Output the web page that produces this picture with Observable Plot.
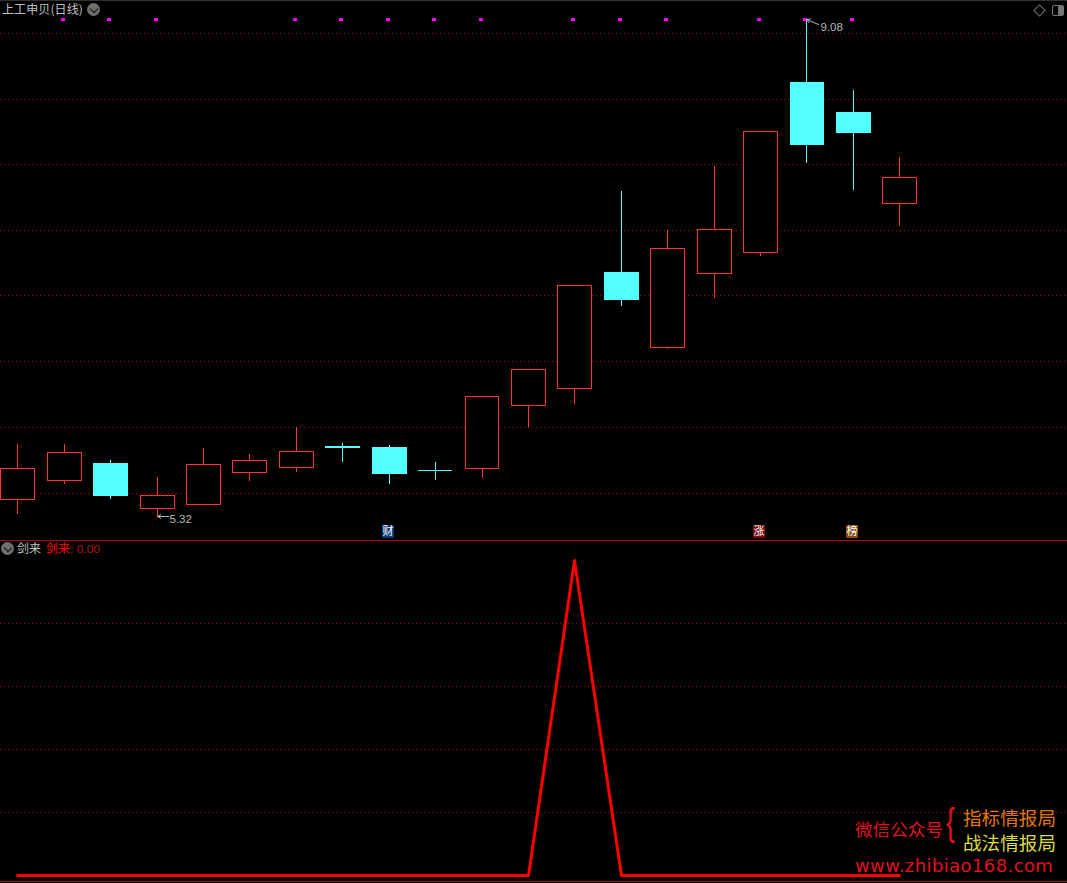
<!DOCTYPE html>
<html lang="zh">
<head>
<meta charset="utf-8">
<script src="https://cdn.jsdelivr.net/npm/d3@7"></script>
<script src="https://cdn.jsdelivr.net/npm/@observablehq/plot@0.6"></script>
<style>
html,body{margin:0;padding:0;background:#000;width:1067px;height:883px;overflow:hidden}
#page{position:relative;width:1067px;height:883px;background:#000;font-family:"Noto Sans CJK SC","Noto Sans",sans-serif}
#page svg{display:block;background:#000;position:relative}
.t{position:absolute;white-space:nowrap;line-height:1;z-index:2}
.btn{position:absolute;width:13px;height:13px;border-radius:50%;background:#6e6e6e;z-index:2}
.btn:after{content:"";position:absolute;left:3.5px;top:2.5px;width:5px;height:5px;border-right:1.3px solid #111;border-bottom:1.3px solid #111;transform:rotate(45deg)}
</style>
</head>
<body>
<div id="page">
  <div style="position:absolute;left:0;top:0;width:1067px;height:1px;background:#333;z-index:3"></div>
  <div class="t" style="left:2px;top:3px;font-size:12px;letter-spacing:.1px;color:#c0c0c0">上工申贝(日线)</div>
  <div class="btn" style="left:87px;top:3px"></div>
  <div style="position:absolute;left:1035px;top:6px;width:7px;height:7px;border:1px solid #777;transform:rotate(45deg);z-index:2"></div>
  <div style="position:absolute;left:1052px;top:5px;width:10px;height:9px;border:1px solid #777;border-radius:2px;z-index:2"><div style="position:absolute;right:0;top:0;width:5px;height:9px;background:#777"></div></div>
  <div class="btn" style="left:1px;top:542px"></div>
  <div class="t" style="left:17px;top:542px;font-size:12px;color:#c0c0c0">剑来</div>
  <div class="t" style="left:46px;top:542px;font-size:12px;color:#ff0000">剑来<span style="font-family:'Liberation Sans';font-size:11.5px;letter-spacing:.2px;color:#b81414">: 0.00</span></div>
  <div class="t" style="left:855px;top:820px;font-size:17.6px;color:#e01020">微信公众号</div>
  <div class="t" style="left:946px;top:803px;font-size:38px;font-weight:300;color:#e01020;transform:scaleX(.7);transform-origin:left top;font-family:'Liberation Sans'">{</div>
  <div class="t" style="left:963px;top:808px;font-size:18.6px;color:#e07808">指标情报局</div>
  <div class="t" style="left:963px;top:833px;font-size:18.6px;color:#dcdc3c">战法情报局</div>
  <div class="t" style="left:855px;top:857px;font-size:18px;letter-spacing:.4px;color:#e01020;font-family:'DejaVu Sans'">www.zhibiao168.com</div>
  <div id="top"></div>
  <div id="bottom"></div>
</div>
<script>
// 日线 K 线数据(读自图中)
const days  = d3.range(20);
const open  = [5.449,5.593,5.721,5.381,5.411,5.653,5.691,5.85,5.842,5.668,5.684,6.16,6.289,7.166,6.599,7.159,7.318,8.603,8.377,7.688];
const close = [5.684,5.805,5.48,5.479,5.714,5.744,5.812,5.842,5.645,5.668,6.228,6.432,7.068,6.962,7.348,7.491,8.233,8.135,8.226,7.885];
const high  = [5.865,5.865,5.744,5.616,5.835,5.79,5.994,5.873,5.858,5.729,6.228,6.432,7.068,7.779,7.484,7.968,8.233,9.08,8.543,8.036];
const low   = [5.336,5.563,5.449,5.32,5.411,5.585,5.653,5.729,5.563,5.593,5.608,5.994,6.168,6.909,6.584,6.97,7.287,7.991,7.787,7.514];
const priceGrid = [8.974,8.475,7.983,7.484,6.992,6.493,5.994,5.495];
const signalDays = [1,2,3,6,7,8,9,10,12,13,14,16,17,18];
const signalPrice = 9.08;
const badgeDays = [8,16,18];
const badgeText = ["财","涨","榜"];
const badgeFill = ["#0a3c78","#7d0808","#8a4a08"];
const badgePrice = 5.203;
// 副图 剑来
const jianlai = [0,0,0,0,0,0,0,0,0,0,0,0,1,0,0,0,0,0,0,0];
const subGrid = [0.8,0.6,0.4,0.2];
const subEdges = [1.065,-0.0175];

const RED="#ff3232", CYAN="#54ffff", GRID="#b00000", LABEL="#b8b8b8";
const isUp = i => close[i] > open[i];
const isFlat = i => close[i] === open[i];
const xScale = {domain:[0,19], range:[17.3,899.3], round:true};
const halfBody = 0.365;

const topPlot = Plot.plot({
  width:1067, height:539, margin:0,
  style:{background:"#000"},
  x:{...xScale, axis:null},
  y:{domain:[5.32,9.08], range:[516,19], round:true, axis:null},
  marks:[
    Plot.ruleY(priceGrid,{stroke:GRID,strokeWidth:1,strokeDasharray:"1 3",shapeRendering:"crispEdges"}),
    Plot.ruleX(days,{x:d=>d,y1:i=>low[i],y2:i=>high[i],stroke:i=>isUp(i)?RED:CYAN,strokeWidth:1,shapeRendering:"crispEdges"}),
    Plot.rect(days.filter(i=>!isFlat(i)),{x1:i=>i-halfBody,x2:i=>i+halfBody,y1:i=>open[i],y2:i=>close[i],
      fill:i=>isUp(i)?"#000":CYAN,stroke:i=>isUp(i)?RED:CYAN,strokeWidth:1,shapeRendering:"crispEdges"}),
    Plot.ruleY(days.filter(isFlat),{x1:i=>i-halfBody,x2:i=>i+halfBody,y:i=>open[i],stroke:CYAN,strokeWidth:1,shapeRendering:"crispEdges"}),
    Plot.dot(signalDays,{x:d=>d,y:()=>signalPrice,symbol:"square",r:1.8,fill:"#ff00ff",dx:-1.5,shapeRendering:"crispEdges"}),
    Plot.dot(badgeDays,{x:d=>d,y:()=>badgePrice,symbol:"square",r:7.3,fill:(d,i)=>badgeFill[i],dx:-1.5,shapeRendering:"crispEdges"}),
    Plot.text(badgeDays,{x:d=>d,y:()=>badgePrice,text:(d,i)=>badgeText[i],fill:"#fff",fontSize:11,dx:-1.5,fontFamily:"Noto Sans CJK SC"}),
    Plot.arrow([3],{x1:3.25,y1:()=>low[3],x2:3,y2:()=>low[3],stroke:LABEL,strokeWidth:1,bend:0,headLength:6,inset:0}),
    Plot.text([3],{x:3,y:()=>low[3],text:()=>low[3].toFixed(2),dx:12,dy:3,textAnchor:"start",fill:LABEL,fontSize:11.5,letterSpacing:"0.3px",fontFamily:"Liberation Sans"}),
    Plot.arrow([17],{x1:17.25,y1:9.04,x2:17,y2:9.08,stroke:LABEL,strokeWidth:1,bend:0,headLength:6,inset:0}),
    Plot.text([17],{x:17,y:()=>high[17],text:()=>high[17].toFixed(2),dx:14,dy:8,textAnchor:"start",fill:LABEL,fontSize:11.5,letterSpacing:"0.2px",fontFamily:"Liberation Sans"})
  ]
});
document.getElementById("top").append(topPlot);

const bottomPlot = Plot.plot({
  width:1067, height:344, margin:0,
  style:{background:"#000"},
  x:{...xScale, axis:null},
  y:{domain:[0,1], range:[336,21], round:true, axis:null},
  marks:[
    Plot.ruleY(subGrid,{stroke:GRID,strokeWidth:1,strokeDasharray:"1 3",shapeRendering:"crispEdges"}),
    Plot.ruleY(subEdges,{stroke:GRID,strokeWidth:1,shapeRendering:"crispEdges"}),
    Plot.line(jianlai,{x:(d,i)=>days[i],y:d=>d,stroke:"#ff0000",strokeWidth:3,curve:"linear"})
  ]
});
document.getElementById("bottom").append(bottomPlot);
</script>
</body>
</html>
